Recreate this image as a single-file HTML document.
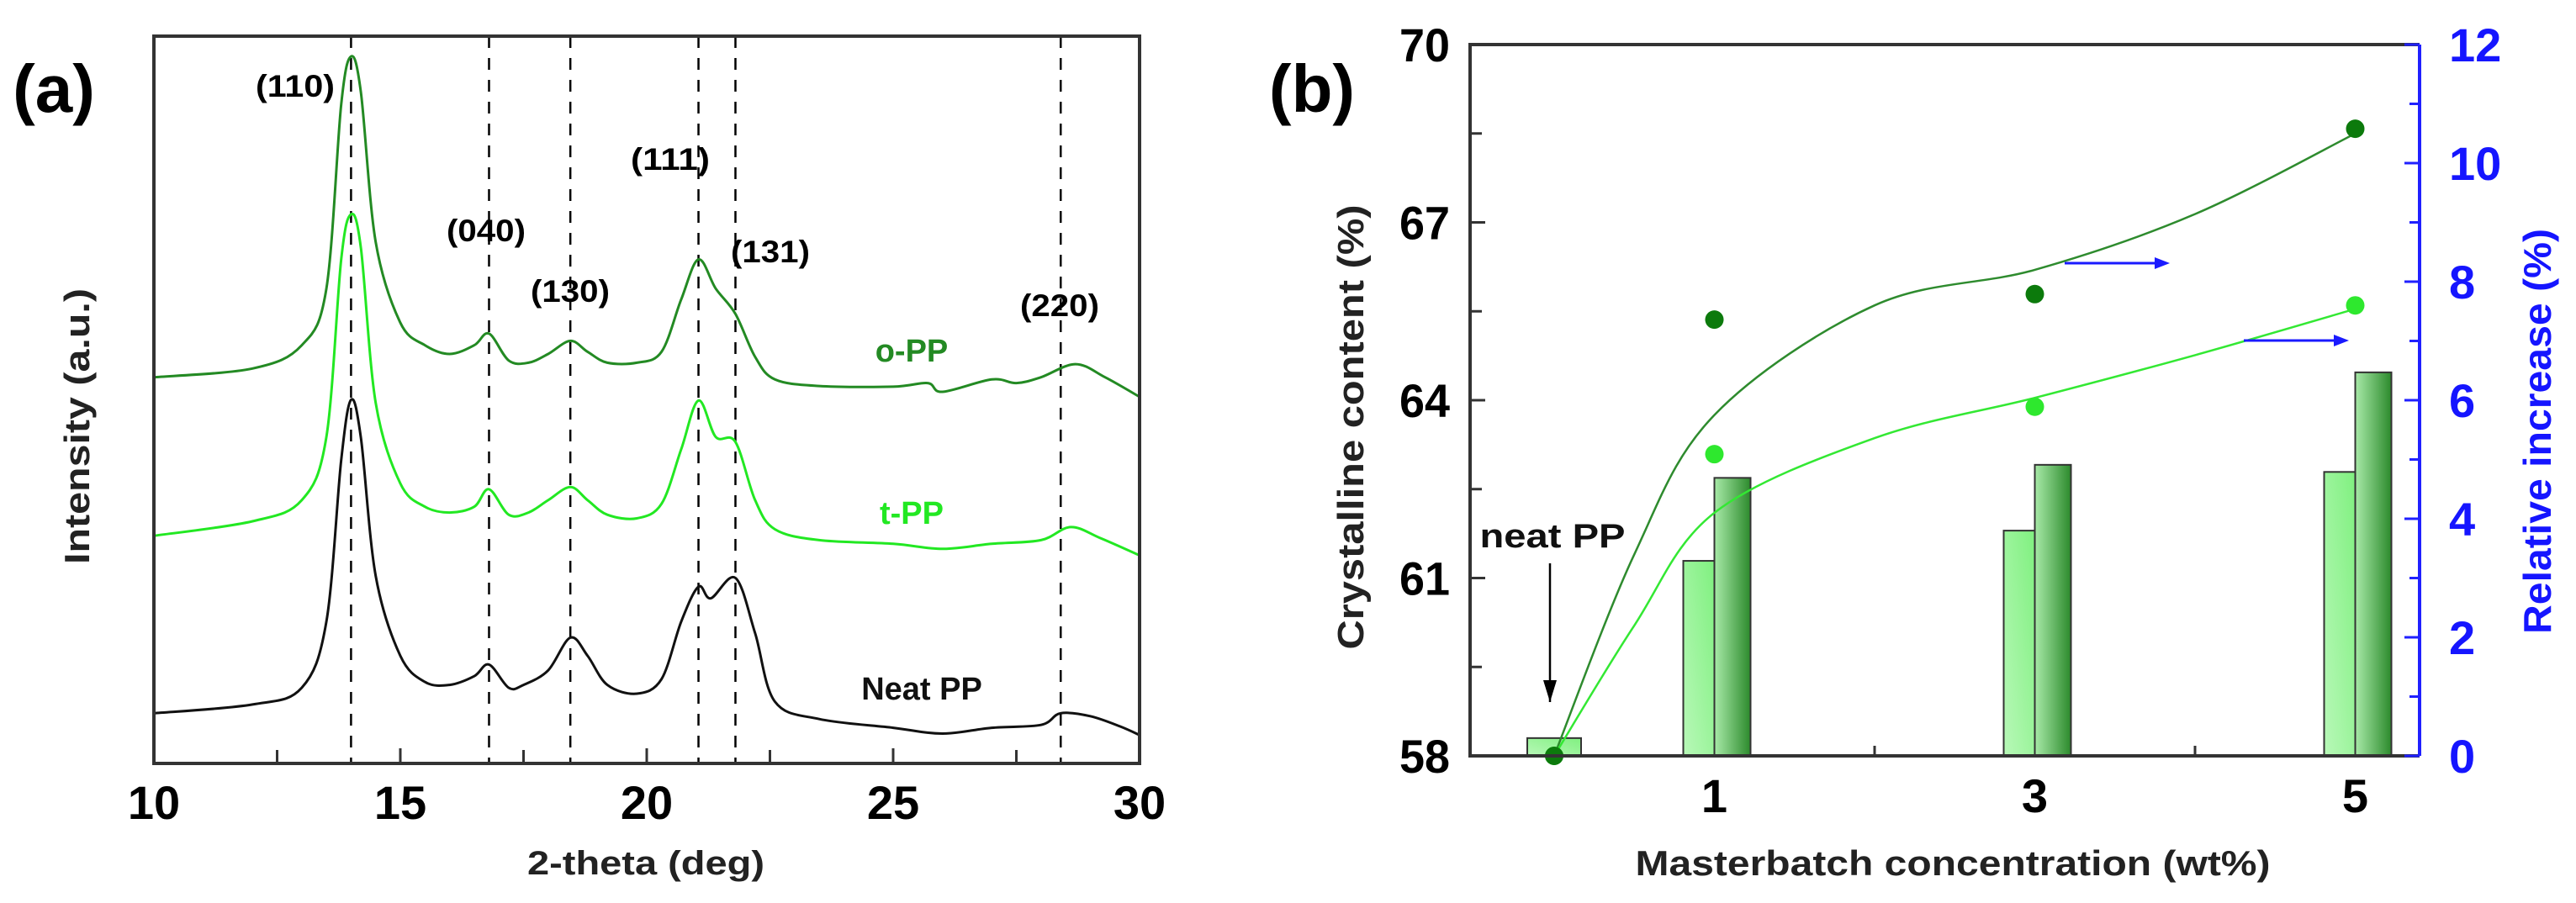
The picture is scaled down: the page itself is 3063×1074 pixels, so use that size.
<!DOCTYPE html>
<html><head><meta charset="utf-8"><style>
html,body{margin:0;padding:0;background:#fff;}
svg{display:block;font-family:"Liberation Sans",sans-serif;font-weight:bold;}
</style></head><body>
<svg id="fig" width="3063" height="1074" viewBox="0 0 3063 1074" xmlns="http://www.w3.org/2000/svg">
<defs>
<linearGradient id="gLight" x1="0" y1="1" x2="1" y2="0"><stop offset="0" stop-color="#b8f8b8"/><stop offset="1" stop-color="#80f080"/></linearGradient>
<linearGradient id="gDark" x1="0" y1="0" x2="1" y2="0"><stop offset="0" stop-color="#a8eaa8"/><stop offset="1" stop-color="#2c8a2c"/></linearGradient>
<marker id="arrK" markerWidth="26" markerHeight="16" refX="26" refY="8" orient="auto" markerUnits="userSpaceOnUse"><path d="M0,0 L26,8 L0,16 z" fill="#000"/></marker>
</defs>
<g id="panelA"></g>
<g id="panelB"></g>
</svg>
<script>
// ---------- Panel (a) data ----------
const xrdX = [10,12,13,13.5,13.8,14,14.2,14.5,15,15.5,16,16.5,16.8,17.2,17.5,18,18.45,18.8,19.2,19.8,20.3,20.7,21.05,21.3,21.8,22.2,22.6,23.5,25,26,27,28,28.4,29,29.6,30];
const neatI = [6.9,8.1,10.4,19.5,41.7,50.0,44.8,25.8,14.8,11.2,10.8,12.0,13.6,10.4,10.8,12.8,17.3,14.8,10.8,9.6,11.6,19.5,24.3,22.7,25.5,17.9,8.5,6.1,4.9,4.1,4.9,5.3,6.9,6.5,5.1,3.9];
const tX = [10,12,13,13.5,13.8,14,14.2,14.5,15,15.5,16,16.5,16.8,17.2,17.6,18,18.45,18.8,19.2,19.8,20.3,20.7,21.05,21.4,21.8,22.2,22.6,23.5,25,26,27,28,28.6,29.2,30];
const tI = [31.3,33.3,36.2,44.9,69.3,75.5,70.9,49.6,38.5,35.3,34.5,35.3,37.7,34.2,34.5,36.2,38.0,36.2,34.2,33.7,35.7,43.2,49.9,44.9,44.2,36.2,32.2,30.7,30.2,29.5,30.2,30.7,32.5,31.0,28.6];
const oX = [10,12,13,13.5,13.8,14,14.2,14.5,15,15.5,16,16.5,16.8,17.2,17.6,18,18.45,18.8,19.2,19.8,20.3,20.7,21.05,21.4,21.8,22.2,22.6,23.5,25,25.7,26,27,27.5,28,28.7,29.3,30];
const oI = [53.1,54.3,57.5,65.3,90.6,97.2,92.3,71.7,60.6,57.5,56.3,57.5,59.1,55.4,55.1,56.3,58.1,56.6,55.1,55.1,56.6,63.8,69.3,65.3,61.8,55.9,52.8,51.9,51.8,52.3,51.1,52.8,52.3,53.1,54.9,53.1,50.4];
const peakPos = [14,16.8,18.45,21.05,21.8,28.4];
const peakLabels = ["(110)","(040)","(130)","(111)","(131)","(220)"];
const xTicksA = [10,15,20,25,30];

// ---------- Panel (b) data ----------
const conc = [1,3,5];
const relLight = [3.29,3.80,4.79];
const relDark = [4.69,4.91,6.47];
const relNeat = 0.3;
const ptsX = [0,1,3,5];
const crysDark = [58,65.36,65.79,68.58];
const crysLight = [58,63.09,63.89,65.60];
const fitX = [0,0.5,1,2,3,4,5];
const fitDark = [58,61.4,63.75,65.6,66.2,67.14,68.5];
const fitLight = [58,60.2,62.1,63.36,64.04,64.76,65.54];
const leftTicks = [58,61,64,67,70];
const rightTicks = [0,2,4,6,8,10,12];
const xTickLabelsB = [1,3,5];

const NS="http://www.w3.org/2000/svg";
function mk(parent,tag,attrs,text){const e=document.createElementNS(NS,tag);for(const k in attrs)e.setAttribute(k,attrs[k]);if(text!==undefined)e.textContent=text;parent.appendChild(e);return e;}
function smooth(pts){let d=`M${pts[0][0]},${pts[0][1]}`;for(let i=0;i<pts.length-1;i++){const p0=pts[Math.max(0,i-1)],p1=pts[i],p2=pts[i+1],p3=pts[Math.min(pts.length-1,i+2)];const c1=[p1[0]+(p2[0]-p0[0])/6,p1[1]+(p2[1]-p0[1])/6];const c2=[p2[0]-(p3[0]-p1[0])/6,p2[1]-(p3[1]-p1[1])/6];d+=` C${c1[0].toFixed(1)},${c1[1].toFixed(1)} ${c2[0].toFixed(1)},${c2[1].toFixed(1)} ${p2[0].toFixed(1)},${p2[1].toFixed(1)}`;}return d;}

// ----- Panel A -----
(function(){
const g=document.getElementById('panelA');
const L=183,R=1355,T=43,B=908;
const sx=x=>L+(x-10)/20*(R-L);
const sy=v=>B-v/100*(B-T);
let t=mk(g,'text',{x:64,y:133,'font-size':80,'text-anchor':'middle'},'(a)');

peakPos.forEach((p,i)=>{const l=mk(g,'line',{x1:sx(p),x2:sx(p),y1:T,y2:B,stroke:'#000','stroke-width':2.5,'stroke-dasharray':'14,12'});
});
const series=[[xrdX,neatI,'#111','neat-pp-curve'],[tX,tI,'#22e822','t-pp-curve'],[oX,oI,'#238a23','o-pp-curve']];
series.forEach(s=>{const pts=s[0].map((x,i)=>[sx(x),sy(s[1][i])]);const p=mk(g,'path',{d:smooth(pts),fill:'none',stroke:s[2],'stroke-width':3});
});
const lp=[[351,115],[578,287],[678,359],[797,202],[916,312],[1260,376]];
peakLabels.forEach((lab,i)=>{const e=mk(g,'text',{x:lp[i][0],y:lp[i][1],'font-size':37,'text-anchor':'middle',textLength:94,lengthAdjust:'spacingAndGlyphs'},lab);
});
const sl=[[1084,430,'o-PP','#238a23','o-pp-label'],[1084,623,'t-PP','#22e822','t-pp-label'],[1096,832,'Neat PP','#111','neat-pp-label']];
sl.forEach(s=>{const e=mk(g,'text',{x:s[0],y:s[1],'font-size':38,'text-anchor':'middle',fill:s[3]},s[2]);});
const box=mk(g,'rect',{x:L,y:T,width:R-L,height:B-T,fill:'none',stroke:'#333','stroke-width':4});

for(let x=10;x<=30;x+=2.5){const maj=(x%5===0);const tk=mk(g,'line',{x1:sx(x),x2:sx(x),y1:B,y2:B-(maj?18:16),stroke:'#333','stroke-width':3});
}
xTicksA.forEach(x=>{const e=mk(g,'text',{x:sx(x),y:974,'font-size':56,'text-anchor':'middle'},String(x));});
t=mk(g,'text',{x:768,y:1040,'font-size':40,'text-anchor':'middle',textLength:282,lengthAdjust:'spacingAndGlyphs',fill:'#222'},'2-theta (deg)');

t=mk(g,'text',{x:0,y:0,'font-size':42,'text-anchor':'middle',transform:'translate(106,507) rotate(-90)',textLength:328,lengthAdjust:'spacingAndGlyphs',fill:'#222'},'Intensity (a.u.)');

})();

// ----- Panel B -----
(function(){
const g=document.getElementById('panelB');
const L=1748,R=2877,T=53,B=899;
const x0=1848,ux=190.5;
const sx=c=>x0+c*ux;
const syL=v=>B-(v-58)/12*(B-T);
const syR=v=>B-v/12*(B-T);
let t=mk(g,'text',{x:1560,y:133,'font-size':80,'text-anchor':'middle'},'(b)');

let b=mk(g,'rect',{x:sx(0)-32,y:syR(relNeat),width:64,height:B-syR(relNeat),fill:'url(#gLight)',stroke:'#333','stroke-width':2});

conc.forEach((c,i)=>{
 const bl=mk(g,'rect',{x:sx(c)-37,y:syR(relLight[i]),width:37,height:B-syR(relLight[i]),fill:'url(#gLight)',stroke:'#333','stroke-width':2});
 
 const bd=mk(g,'rect',{x:sx(c),y:syR(relDark[i]),width:43,height:B-syR(relDark[i]),fill:'url(#gDark)',stroke:'#333','stroke-width':2});
 
});
let p=mk(g,'path',{d:smooth(fitX.map((x,i)=>[sx(x),syL(fitDark[i])])),fill:'none',stroke:'#2e8b2e','stroke-width':2.5});

p=mk(g,'path',{d:smooth(fitX.map((x,i)=>[sx(x),syL(fitLight[i])])),fill:'none',stroke:'#33e833','stroke-width':2.5});

ptsX.forEach((x,i)=>{
 const c2=mk(g,'circle',{cx:sx(x),cy:syL(crysLight[i]),r:11,fill:'#2ee82e'});
 
});
ptsX.forEach((x,i)=>{
 const c1=mk(g,'circle',{cx:sx(x),cy:syL(crysDark[i]),r:11,fill:'#0c7a0c'});
 
});
t=mk(g,'text',{x:1846,y:651,'font-size':40,'text-anchor':'middle',textLength:173,lengthAdjust:'spacingAndGlyphs',fill:'#111'},'neat PP');

let a=mk(g,'line',{x1:1843,y1:670,x2:1843,y2:835,stroke:'#000','stroke-width':2.5,'marker-end':'url(#arrK)'});

[[2455,2580,313],[2668,2793,405]].forEach((ar,i)=>{
 const l=mk(g,'line',{x1:ar[0],y1:ar[2],x2:ar[1]-14,y2:ar[2],stroke:'#1a1aff','stroke-width':3});
 
 const h=mk(g,'path',{d:`M${ar[1]},${ar[2]} L${ar[1]-18},${ar[2]-7} L${ar[1]-18},${ar[2]+7} z`,fill:'#1a1aff'});
 
});
let ax=mk(g,'path',{d:`M${R},${T} L${L},${T} L${L},${B} L${R},${B}`,fill:'none',stroke:'#333','stroke-width':4});

ax=mk(g,'line',{x1:R,y1:T,x2:R,y2:B,stroke:'#2020ff','stroke-width':4});

for(let v=58;v<=70;v+=1.5){const maj=((v-58)%3===0);const tk=mk(g,'line',{x1:L,x2:L+(maj?18:14),y1:syL(v),y2:syL(v),stroke:'#333','stroke-width':3});}
for(let v=0;v<=12;v+=1){const maj=(v%2===0);const tk=mk(g,'line',{x1:R,x2:R-(maj?18:12),y1:syR(v),y2:syR(v),stroke:'#2020ff','stroke-width':3});}
[2,4].forEach(c=>{const tk=mk(g,'line',{x1:sx(c),x2:sx(c),y1:B,y2:B-12,stroke:'#333','stroke-width':3});});
leftTicks.forEach(v=>{const e=mk(g,'text',{x:1694,y:syL(v)+20,'font-size':56,'text-anchor':'middle',textLength:60,lengthAdjust:'spacingAndGlyphs'},String(v));});
rightTicks.forEach(v=>{const e=mk(g,'text',{x:2912,y:syR(v)+20,'font-size':56,'text-anchor':'start',fill:'#1515ff'},String(v));});
xTickLabelsB.forEach(c=>{const e=mk(g,'text',{x:sx(c),y:966,'font-size':56,'text-anchor':'middle'},String(c));});
t=mk(g,'text',{x:2322,y:1041,'font-size':42,'text-anchor':'middle',textLength:755,lengthAdjust:'spacingAndGlyphs',fill:'#222'},'Masterbatch concentration (wt%)');

t=mk(g,'text',{x:0,y:0,'font-size':44,'text-anchor':'middle',transform:'translate(1621,508) rotate(-90)',textLength:529,lengthAdjust:'spacingAndGlyphs',fill:'#222'},'Crystalline content (%)');

t=mk(g,'text',{x:0,y:0,'font-size':46,'text-anchor':'middle',transform:'translate(3033,513) rotate(-90)',textLength:482,lengthAdjust:'spacingAndGlyphs',fill:'#1515ff'},'Relative increase (%)');

})();
</script>
</body></html>
